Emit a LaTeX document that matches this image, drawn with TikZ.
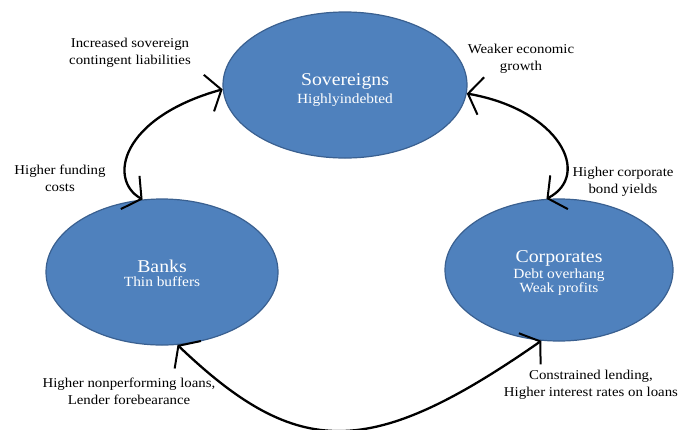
\documentclass[tikz,border=0pt]{standalone}
\usepackage{fontspec}
\setmainfont{Liberation Serif}[FakeStretch=1.1]
\usetikzlibrary{shapes.geometric,arrows.meta}
\definecolor{ellfill}{HTML}{4F81BD}
\definecolor{elldraw}{HTML}{3A6090}
\newcommand{\ttlsize}{\fontsize{18}{21}\selectfont}
\newcommand{\subsize}{\fontsize{14}{16}\selectfont}
\tikzset{
  sector/.style={ellipse, fill=ellfill, draw=elldraw, line width=1.2pt, inner sep=0pt},
  sectxt/.style={text=white, align=center, inner sep=0pt},
  lab/.style={align=center, font=\fontsize{13.5}{17}\selectfont, text=black, inner sep=0pt},
  link/.style={line width=2.3pt, {Straight Barb[length=13pt,width=38pt,line width=2pt]}-{Straight Barb[length=13pt,width=38pt,line width=2pt]}}
}
\begin{document}
\begin{tikzpicture}[x=1pt,y=-1pt]
\useasboundingbox (0,0) rectangle (679,429);
\node[sector, minimum width=244pt, minimum height=146pt] (sov) at (345,85) {};
\node[sector, minimum width=232pt, minimum height=146pt] (banks) at (162,272) {};
\node[sector, minimum width=228pt, minimum height=142pt] (corp) at (559,270) {};
\node[sectxt] (sovt) at ([yshift=-5pt]sov.center) {\ttlsize Sovereigns\\[3pt]\subsize Highlyindebted};
\node[sectxt] (bankst) at ([yshift=-1pt]banks.center) {\ttlsize Banks\\[2pt]\subsize Thin buffers};
\node[sectxt] (corpt) at ([yshift=-3pt]corp.center) {\ttlsize Corporates\\[1pt]\subsize Debt overhang\\\subsize Weak profits};

\node[lab] (l1) at (130,53) {Increased sovereign\\contingent liabilities};
\node[lab] (l2) at (60,178) {Higher funding\\costs};
\node[lab] (l3) at (521,59) {Weaker economic\\growth};
\node[lab] (l4) at (623,182) {Higher corporate\\bond yields};
\node[lab] (l5) at (129,391) {Higher nonperforming loans,\\Lender forebearance};
\node[lab] (l6) at (591,385) {Constrained lending,\\Higher interest rates on loans};

\draw[link] (sov.182) .. controls (120,118) and (108,180) .. (banks.105);
\draw[link] (sov.-4) .. controls (560,110) and (592,175) .. (corp.100);
\draw[link] (banks.-78) .. controls (298,460) and (370,460) .. (corp.-104);
\end{tikzpicture}
\end{document}
